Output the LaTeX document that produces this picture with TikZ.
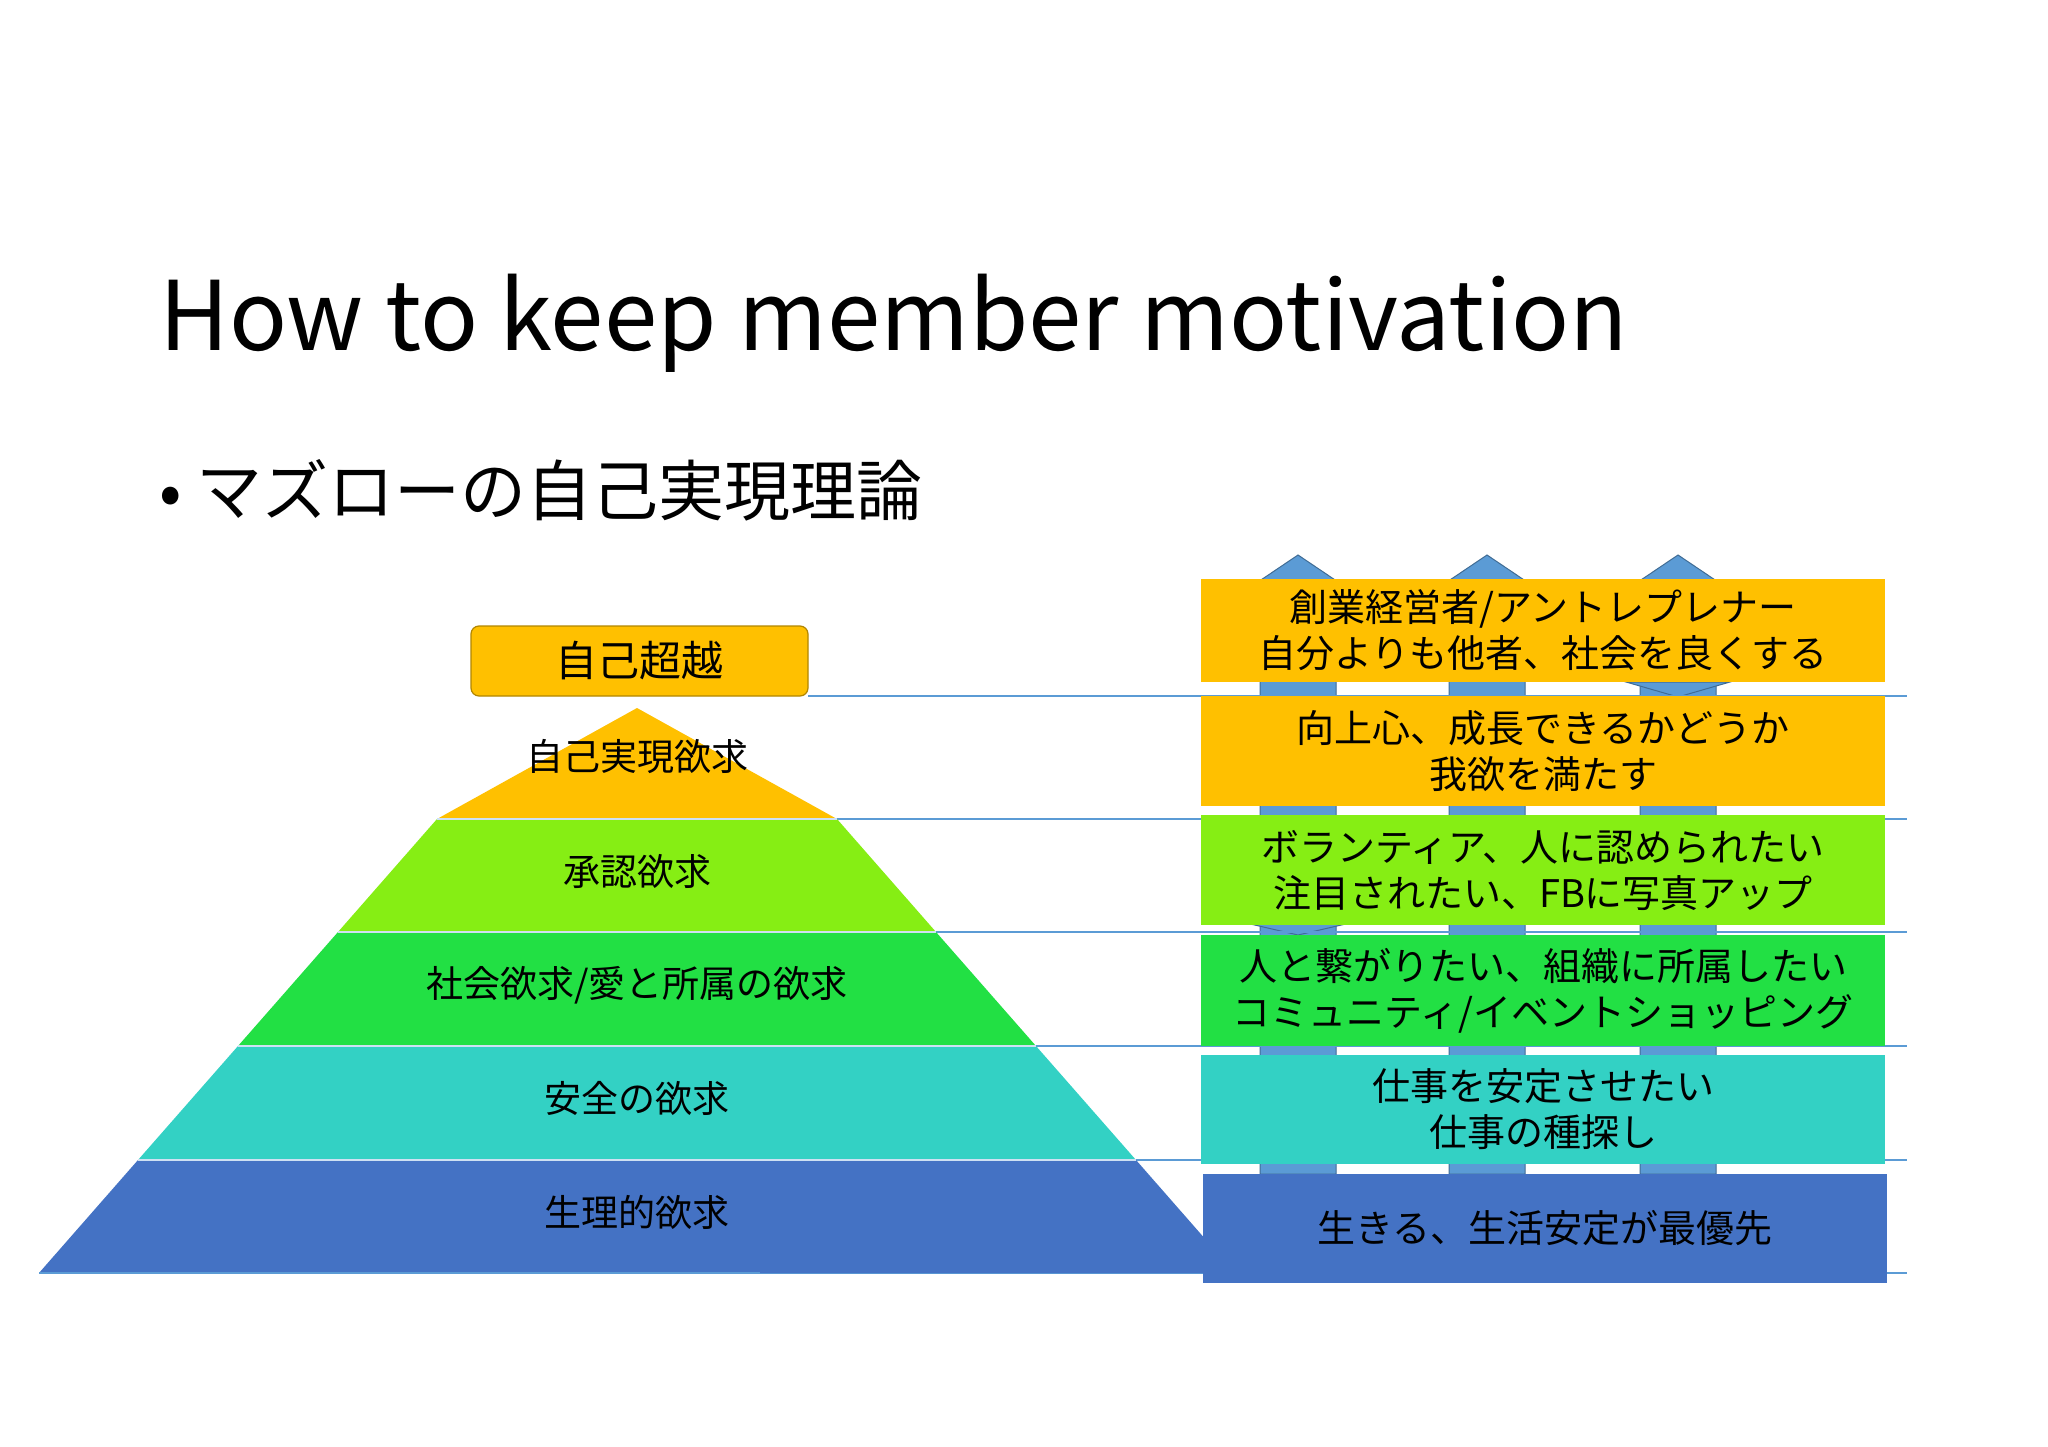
\documentclass[tikz,border=0pt]{standalone}
\usepackage{fontspec}
\setmainfont{Noto Sans CJK JP}
\definecolor{cOr}{HTML}{FFC000}
\definecolor{cLg}{HTML}{86EE14}
\definecolor{cGr}{HTML}{22E044}
\definecolor{cTe}{HTML}{33D1C4}
\definecolor{cBl}{HTML}{4472C4}
\definecolor{cLn}{HTML}{5B9BD5}
\definecolor{cAr}{HTML}{5B9BD5}
\tikzset{
  rbox/.style={inner sep=0pt,outer sep=0pt,anchor=north west,align=center,font=\fontsize{38}{46}\selectfont},
  lbl/.style={font=\fontsize{37}{44}\selectfont},
  sep/.style={cLn,line width=1.5pt},
  arr/.style={fill=cAr,draw=cAr!70!black,line width=1pt}
}
\begin{document}
\begin{tikzpicture}[x=1pt,y=-1pt]
\useasboundingbox[fill=white] (0,0) rectangle (2048,1447);
\node[anchor=base west,inner sep=0pt,font=\fontsize{96}{110}\selectfont] (title) at (159,350) {How to keep member motivation};
\node[anchor=west,inner sep=0pt,font=\fontsize{66}{80}\selectfont] (bul) at (159,490) {• マズローの自己実現理論};
% arrows behind
\foreach \cx/\nm in {1298/a1,1487/a2,1678/a3}{
  \draw[arr] (\cx-38,1174) -- (\cx-38,590) -- (\cx-52,590) -- (\cx,555) -- (\cx+52,590) -- (\cx+38,590) -- (\cx+38,1174) -- cycle;
}
\draw[arr] (1678-52,682) -- (1678,697) -- (1678+52,682) -- cycle;
\draw[arr] (1298-52,923) -- (1298,935) -- (1298+52,923) -- cycle;
% separator lines
\draw[sep] (808,696) -- (1907,696);
\foreach \y in {819,932,1046,1160,1273}{ \draw[sep] (760,\y) -- (1907,\y); }
% pyramid
\coordinate (ap) at (637,708);
\fill[cBl] (39,1273) -- (1235,1273) -- (1136,1160) -- (138,1160) -- cycle;
\fill[cTe] (138,1160) -- (1136,1160) -- (1036,1046) -- (238,1046) -- cycle;
\fill[cGr] (238,1046) -- (1036,1046) -- (936,932) -- (338,932) -- cycle;
\fill[cLg] (338,932) -- (936,932) -- (837,819) -- (437,819) -- cycle;
\fill[cOr] (437,819) -- (837,819) -- (ap) -- cycle;
\foreach \y/\a/\b in {1160/138/1136,1046/238/1036,932/338/936,819/437/837}{ \draw[white!70!cLn,line width=1.5pt] (\a,\y) -- (\b,\y); }
\draw[cLn,line width=1.5pt] (39,1273) -- (760,1273);
\node[lbl] (l1) at (637,757) {自己実現欲求};
\node[lbl] (l2) at (637,871) {承認欲求};
\node[lbl] (l3) at (637,985) {社会欲求/愛と所属の欲求};
\node[lbl] (l4) at (637,1098) {安全の欲求};
\node[lbl] (l5) at (637,1212) {生理的欲求};
\node[draw=cOr!70!black,fill=cOr,rounded corners=8pt,line width=1.2pt,minimum width=337pt,minimum height=70pt,inner sep=0pt,font=\fontsize{42}{50}\selectfont] (top) at (639.5,661) {自己超越};
% right boxes
\node[rbox,fill=cOr,minimum width=684pt,minimum height=103pt] (b1) at (1201,579) {創業経営者/アントレプレナー\\自分よりも他者、社会を良くする};
\node[rbox,fill=cOr,minimum width=684pt,minimum height=110pt] (b2) at (1201,696) {向上心、成長できるかどうか\\我欲を満たす};
\node[rbox,fill=cLg,minimum width=684pt,minimum height=110pt] (b3) at (1201,815) {ボランティア、人に認められたい\\注目されたい、FBに写真アップ};
\node[rbox,fill=cGr,minimum width=684pt,minimum height=111pt] (b4) at (1201,935) {人と繋がりたい、組織に所属したい\\コミュニティ/イベントショッピング};
\node[rbox,fill=cTe,minimum width=684pt,minimum height=109pt] (b5) at (1201,1055) {仕事を安定させたい\\仕事の種探し};
\node[rbox,fill=cBl,minimum width=684pt,minimum height=109pt] (b6) at (1203,1174) {生きる、生活安定が最優先};
\end{tikzpicture}
\end{document}
